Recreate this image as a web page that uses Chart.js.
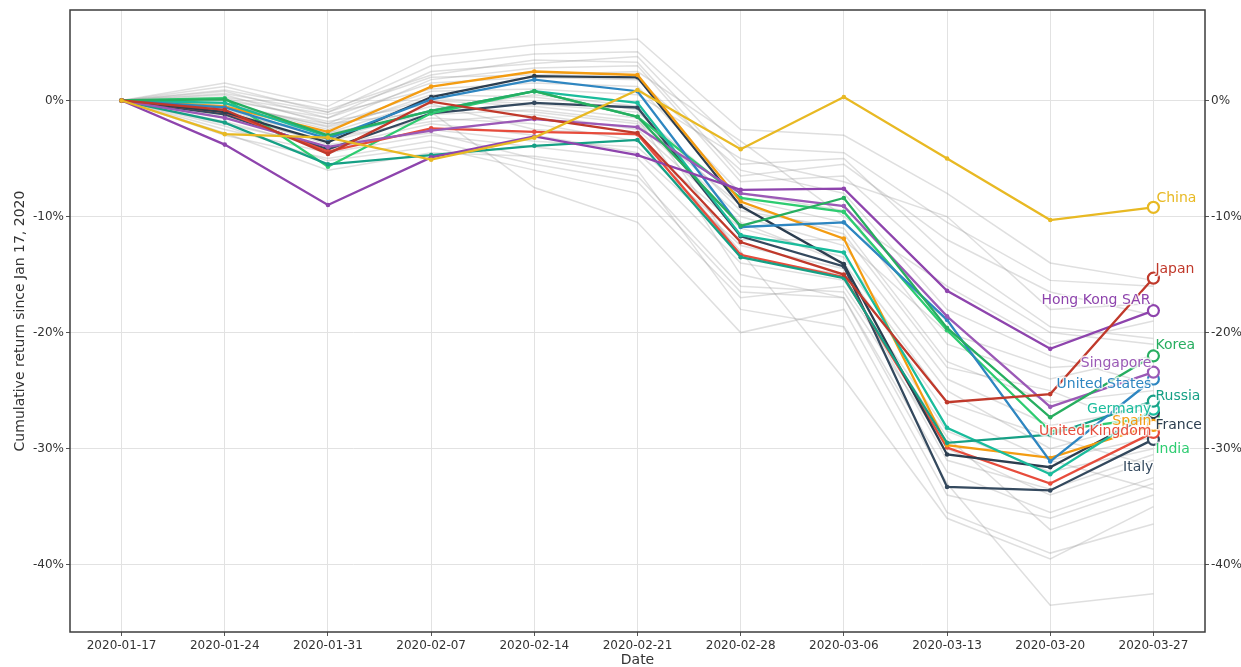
<!DOCTYPE html>
<html>
<head>
<meta charset="utf-8">
<script src="https://cdn.jsdelivr.net/npm/chart.js@4.4.1/dist/chart.umd.min.js"></script>
<style>
  html, body { margin: 0; padding: 0; background: #ffffff; }
  #wrap { width: 1241px; height: 667px; }
</style>
</head>
<body>
<div id="wrap"><canvas id="c" width="1241" height="667"></canvas></div>
<script>
// Weekly closes (Fridays)
const dates = ['2020-01-17','2020-01-24','2020-01-31','2020-02-07','2020-02-14','2020-02-21',
               '2020-02-28','2020-03-06','2020-03-13','2020-03-20','2020-03-27'];
const yTicks = [0, -10, -20, -30, -40];

// Cumulative return (%) since Jan 17, 2020 — highlighted markets
const china     = [0, -2.9, -3.2, -5.1, -3.2,  0.9,  -4.2,   0.3,  -5.0, -10.3,  -9.2];
const japan     = [0, -0.8, -4.6, -0.1, -1.5, -2.8, -12.2, -15.0, -26.0, -25.3, -15.3];
const hongKong  = [0, -3.8, -9.0, -4.9, -3.1, -4.7,  -7.7,  -7.6, -16.4, -21.4, -18.1];
const korea     = [0,  0.1, -3.0, -0.9,  0.8, -1.4, -10.8,  -8.4, -19.6, -27.3, -22.0];
const singapore = [0, -1.5, -4.0, -2.6, -1.6, -2.3,  -8.0,  -9.1, -18.6, -26.4, -23.4];
const usa       = [0, -0.6, -3.3,  0.1,  1.8,  0.8, -10.9, -10.5, -18.9, -31.1, -24.0];
const russia    = [0, -1.9, -5.5, -4.7, -3.9, -3.4, -13.5, -15.3, -29.5, -28.8, -25.9];
const germany   = [0, -0.2, -3.1, -0.9,  0.8, -0.2, -11.6, -13.1, -28.2, -32.2, -26.6];
const spain     = [0, -0.5, -2.7,  1.2,  2.5,  2.2,  -8.7, -11.9, -29.7, -30.8, -28.0];
const france    = [0, -1.0, -3.6,  0.3,  2.1,  2.0,  -9.1, -14.1, -30.5, -31.6, -26.9];
const uk        = [0, -1.0, -4.4, -2.4, -2.7, -2.9, -13.3, -15.2, -29.9, -33.0, -28.6];
const india     = [0,  0.2, -5.7, -1.1,  0.8, -1.4,  -8.4,  -9.6, -19.8, -28.5, -27.3];
const italy     = [0, -1.2, -4.2, -1.1, -0.2, -0.6, -11.7, -14.3, -33.3, -33.6, -29.2];

// Remaining markets (background lines)
const other01 = [0,  1.5, -0.5,  3.8,  4.8,  5.3,  -2.5,  -3.0,  -8.0, -14.0, -15.5];
const other02 = [0,  1.2, -1.0,  3.0,  4.0,  4.2,  -4.0,  -4.5, -10.5, -15.5, -16.0];
const other03 = [0,  0.8, -1.5,  2.5,  3.2,  3.8,  -5.5,  -5.0, -13.3, -19.5, -20.5];
const other04 = [0,  0.5, -2.0,  1.8,  2.8,  3.0,  -7.0,  -6.5, -14.5, -20.0, -21.0];
const other05 = [0,  0.3, -1.2,  1.0,  1.5,  1.2,  -8.0,  -9.5, -21.0, -24.0, -22.0];
const other06 = [0, -0.3, -2.5,  0.5,  0.3, -0.8,  -9.5, -11.0, -22.5, -26.0, -25.0];
const other07 = [0, -0.8, -3.0, -0.5, -1.0, -2.0, -10.0, -12.5, -24.0, -28.0, -26.5];
const other08 = [0, -1.5, -3.5, -1.5, -2.0, -3.5, -11.0, -13.5, -25.0, -30.0, -27.5];
const other09 = [0, -2.0, -4.0, -2.0, -3.0, -4.5, -12.5, -14.5, -27.0, -31.0, -29.0];
const other10 = [0, -2.5, -4.5, -3.0, -4.0, -5.0, -14.0, -15.5, -28.5, -32.0, -30.0];
const other11 = [0, -1.0, -3.8, -2.8, -5.0, -6.5, -16.0, -16.5, -30.0, -34.0, -31.0];
const other12 = [0, -3.0, -5.0, -3.5, -5.5, -7.0, -16.5, -17.0, -32.0, -35.5, -32.5];
const other13 = [0, -0.5, -2.0, -1.0, -7.5,-10.5, -20.0, -18.0, -34.0, -36.0, -33.0];
const other14 = [0,  0.2, -1.8, -0.3, -2.5, -3.0, -13.0, -24.0, -36.0, -39.5, -35.0];
const other15 = [0, -1.2, -2.8,  0.0, -0.5, -1.5, -15.0, -17.0, -33.0, -43.5, -42.5];
const other16 = [0, -0.4, -2.2,  0.8,  1.0,  0.5,  -5.0,  -7.0, -10.0, -18.0, -17.5];
const other17 = [0,  0.6, -1.0,  2.0,  2.2,  2.5,  -3.5, -10.0, -16.0, -21.0, -19.0];
const other18 = [0, -1.8, -4.2, -2.5, -3.5, -4.0, -12.0, -12.0, -20.0, -23.0, -22.5];
const other19 = [0, -0.9, -3.2, -1.8, -1.2, -2.5, -10.5, -14.0, -26.0, -29.0, -31.5];
const other20 = [0, -2.2, -5.2, -4.0, -6.0, -8.0, -17.0, -16.0, -29.0, -37.0, -34.0];
const other21 = [0,  0.0, -1.5,  1.5,  2.0,  1.8,  -6.0,  -8.0, -18.0, -22.0, -24.5];
const other22 = [0, -0.6, -2.8, -1.2, -0.8, -1.8,  -9.0, -11.5, -23.0, -25.0, -28.5];
const other23 = [0, -1.4, -3.4, -0.8,  0.5, -0.5, -13.5, -15.0, -31.0, -33.5, -30.5];
const other24 = [0,  0.9, -0.8,  2.2,  3.5,  3.3,  -6.5,  -5.5, -12.0, -16.5, -18.5];
const other25 = [0, -2.8, -6.0, -4.5, -4.8, -6.0, -18.0, -19.5, -35.5, -39.0, -36.5];
const other26 = [0, -0.2, -2.3,  0.2, -0.3, -1.0,  -8.5, -10.5, -19.0, -31.0, -33.5];

const highlighted = [
  ['China', china], ['Japan', japan], ['Hong Kong SAR', hongKong], ['Korea', korea],
  ['Singapore', singapore], ['United States', usa], ['Russia', russia], ['Germany', germany],
  ['Spain', spain], ['France', france], ['United Kingdom', uk], ['India', india], ['Italy', italy]
];
const others = [other01, other02, other03, other04, other05, other06, other07, other08, other09,
  other10, other11, other12, other13, other14, other15, other16, other17, other18, other19,
  other20, other21, other22, other23, other24, other25, other26];

// Line colours and end-label placement (pixel offsets from the final point)
const styles = {
  'China':          { color: '#e8b923', align: 'left',  dx:  3, dy:  -9 },
  'Japan':          { color: '#c0392b', align: 'left',  dx:  2, dy:  -9 },
  'Hong Kong SAR':  { color: '#8e44ad', align: 'right', dx: -3, dy: -10 },
  'Korea':          { color: '#27ae60', align: 'left',  dx:  2, dy: -10 },
  'Singapore':      { color: '#9b59b6', align: 'right', dx: -2, dy:  -9 },
  'United States':  { color: '#2e86c1', align: 'right', dx: -2, dy:   5 },
  'Russia':         { color: '#16a085', align: 'left',  dx:  2, dy:  -5 },
  'Germany':        { color: '#1abc9c', align: 'right', dx: -2, dy:   0 },
  'Spain':          { color: '#f39c12', align: 'right', dx: -2, dy:  -4 },
  'France':         { color: '#2c3e50', align: 'left',  dx:  2, dy:  13 },
  'United Kingdom': { color: '#e74c3c', align: 'right', dx: -2, dy:  -1 },
  'India':          { color: '#2ecc71', align: 'left',  dx:  2, dy:  32 },
  'Italy':          { color: '#34495e', align: 'right', dx:  0, dy:  28 }
};

const FONT = '"DejaVu Sans", "Liberation Sans", sans-serif';
const last = dates.length - 1;

const datasets = [];
highlighted.forEach(([name, vals]) => {
  const c = styles[name].color;
  datasets.push({
    label: name,
    data: vals,
    borderColor: c,
    borderWidth: 2.3,
    tension: 0,
    order: 1,
    pointRadius: vals.map((v, i) => i === last ? 5.5 : 2.3),
    pointBorderWidth: vals.map((v, i) => i === last ? 2.2 : 0),
    pointBackgroundColor: vals.map((v, i) => i === last ? '#ffffff' : c),
    pointBorderColor: c,
    yAxisID: 'y'
  });
});
others.forEach((vals, k) => {
  datasets.push({
    label: 'other' + k,
    data: vals,
    borderColor: 'rgba(150,150,150,0.3)',
    borderWidth: 1.5,
    tension: 0,
    order: 2,
    pointRadius: 0,
    yAxisID: 'y'
  });
});

const pct = v => v + '%';

const endLabels = {
  id: 'endLabels',
  afterDatasetsDraw(chart) {
    const ctx = chart.ctx;
    ctx.save();
    ctx.font = '14px ' + FONT;
    ctx.textBaseline = 'middle';
    ctx.lineJoin = 'round';
    chart.data.datasets.forEach((ds, i) => {
      const st = styles[ds.label];
      if (!st) return;
      const meta = chart.getDatasetMeta(i);
      const pt = meta.data[meta.data.length - 1];
      const x = pt.x + st.dx, y = pt.y + st.dy;
      ctx.textAlign = st.align;
      ctx.strokeStyle = 'rgba(255,255,255,0.8)';
      ctx.lineWidth = 3;
      ctx.strokeText(ds.label, x, y);
      ctx.fillStyle = st.color;
      ctx.fillText(ds.label, x, y);
    });
    ctx.restore();
  }
};

const frame = {
  id: 'frame',
  afterDraw(chart) {
    const { ctx, chartArea: a } = chart;
    ctx.save();
    ctx.strokeStyle = '#3c3c3c';
    ctx.lineWidth = 1.5;
    ctx.strokeRect(a.left, a.top, a.right - a.left, a.bottom - a.top);
    ctx.restore();
  }
};

new Chart(document.getElementById('c'), {
  type: 'line',
  data: { labels: dates, datasets },
  plugins: [endLabels, frame],
  options: {
    responsive: false,
    animation: false,
    devicePixelRatio: 1,
    layout: { padding: { top: 10, left: 0, right: 0, bottom: 0 } },
    plugins: { legend: { display: false }, tooltip: { enabled: false } },
    scales: {
      x: {
        type: 'category',
        offset: true,
        border: { display: false },
        grid: { color: '#e2e2e2', lineWidth: 1, tickLength: 4, tickColor: '#555' },
        ticks: { color: '#333', font: { family: FONT, size: 12 }, padding: 3, maxRotation: 0, autoSkip: false },
        title: { display: true, text: 'Date', color: '#333', font: { family: FONT, size: 14 }, padding: { top: 0, bottom: -2 } },
        afterFit(s) { s.height = 35; }
      },
      y: {
        position: 'left',
        min: -45.8,
        max: 7.8,
        border: { display: false },
        grid: { color: '#e2e2e2', lineWidth: 1, tickLength: 4, tickColor: '#555' },
        ticks: { stepSize: 10, includeBounds: false, callback: pct, color: '#333', font: { family: FONT, size: 12 }, padding: 2 },
        title: { display: true, text: 'Cumulative return since Jan 17, 2020', color: '#333', font: { family: FONT, size: 14 }, padding: { top: 12, bottom: 0 } },
        afterFit(s) { s.width = 70; }
      },
      y2: {
        position: 'right',
        min: -45.8,
        max: 7.8,
        border: { display: false },
        grid: { drawOnChartArea: false, tickLength: 4, tickColor: '#555' },
        ticks: { stepSize: 10, includeBounds: false, callback: pct, color: '#333', font: { family: FONT, size: 12 }, padding: 2 },
        afterFit(s) { s.width = 36; }
      }
    }
  }
});
</script>
</body>
</html>
